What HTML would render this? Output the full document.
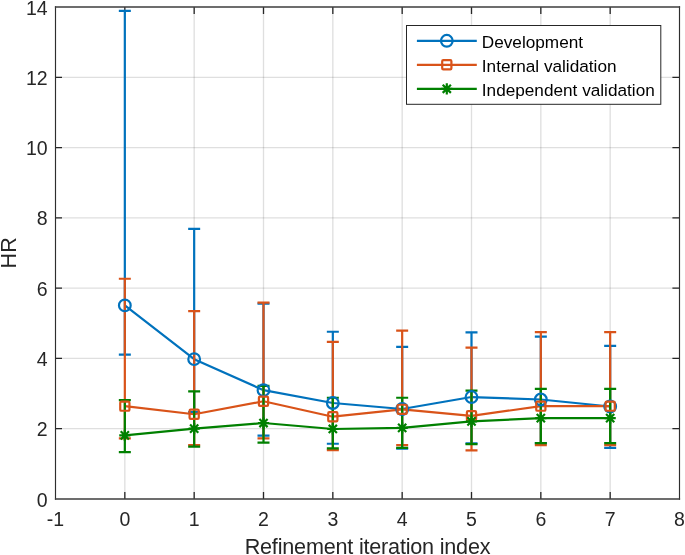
<!DOCTYPE html>
<html><head><meta charset="utf-8"><style>
html,body{margin:0;padding:0;background:#fff;width:685px;height:555px;overflow:hidden;}
svg{display:block;will-change:transform;}
text{font-family:"Liberation Sans",sans-serif;}
</style></head><body>
<svg width="685" height="555" viewBox="0 0 685 555">
<rect x="0" y="0" width="685" height="555" fill="#fff"/>
<path d="M124.83 7.65V498.35 M194.17 7.65V498.35 M263.50 7.65V498.35 M332.83 7.65V498.35 M402.17 7.65V498.35 M471.50 7.65V498.35 M540.83 7.65V498.35 M610.17 7.65V498.35" stroke="#262626" stroke-opacity="0.15" stroke-width="1.3" fill="none"/>
<path d="M56 428.71H679 M56 358.43H679 M56 288.14H679 M56 217.86H679 M56 147.57H679 M56 77.29H679" stroke="#262626" stroke-opacity="0.15" stroke-width="1.3" fill="none"/>
<path d="M124.83 499V491.9M124.83 7V14.0 M194.17 499V491.9M194.17 7V14.0 M263.50 499V491.9M263.50 7V14.0 M332.83 499V491.9M332.83 7V14.0 M402.17 499V491.9M402.17 7V14.0 M471.50 499V491.9M471.50 7V14.0 M540.83 499V491.9M540.83 7V14.0 M610.17 499V491.9M610.17 7V14.0 M55.5 428.71H62.0M679.5 428.71H672.4 M55.5 358.43H62.0M679.5 358.43H672.4 M55.5 288.14H62.0M679.5 288.14H672.4 M55.5 217.86H62.0M679.5 217.86H672.4 M55.5 147.57H62.0M679.5 147.57H672.4 M55.5 77.29H62.0M679.5 77.29H672.4" stroke="#262626" stroke-width="1.3" fill="none"/>
<path d="M124.83 305.41 L194.17 359.13 L263.50 390.19 L332.83 403.01 L402.17 408.98 L471.50 397.04 L540.83 399.50 L610.17 406.52" stroke="#0072BD" stroke-width="2.2" fill="none" stroke-linejoin="round"/><path d="M124.83 354.56V10.86M118.83 10.86H130.83M118.83 354.56H130.83M194.17 412.14V228.88M188.17 228.88H200.17M188.17 412.14H200.17M263.50 435.66V303.66M257.50 303.66H269.50M257.50 435.66H269.50M332.83 443.73V331.74M326.83 331.74H338.83M326.83 443.73H338.83M402.17 448.65V346.84M396.17 346.84H408.17M396.17 448.65H408.17M471.50 443.38V332.44M465.50 332.44H477.50M465.50 443.38H477.50M540.83 443.03V336.66M534.83 336.66H546.83M534.83 443.03H546.83M610.17 447.95V345.78M604.17 345.78H616.17M604.17 447.95H616.17" stroke="#0072BD" stroke-width="2.2" fill="none"/>
<path d="M124.83 406.17 L194.17 414.24 L263.50 401.25 L332.83 416.70 L402.17 409.33 L471.50 415.82 L540.83 406.17 L610.17 406.17" stroke="#D95319" stroke-width="2.2" fill="none" stroke-linejoin="round"/><path d="M124.83 438.47V278.73M118.83 278.73H130.83M118.83 438.47H130.83M194.17 445.14V311.03M188.17 311.03H200.17M188.17 445.14H200.17M263.50 438.47V302.60M257.50 302.60H269.50M257.50 438.47H269.50M332.83 450.05V341.92M326.83 341.92H338.83M326.83 450.05H338.83M402.17 445.14V330.69M396.17 330.69H408.17M396.17 445.14H408.17M471.50 450.40V347.54M465.50 347.54H477.50M465.50 450.40H477.50M540.83 445.14V332.09M534.83 332.09H546.83M534.83 445.14H546.83M610.17 445.14V332.09M604.17 332.09H616.17M604.17 445.14H616.17" stroke="#D95319" stroke-width="2.2" fill="none"/>
<path d="M124.83 435.31 L194.17 428.64 L263.50 423.02 L332.83 428.99 L402.17 427.93 L471.50 421.41 L540.83 418.10 L610.17 418.10" stroke="#008000" stroke-width="2.2" fill="none" stroke-linejoin="round"/><path d="M124.83 452.16V400.20M118.83 400.20H130.83M118.83 452.16H130.83M194.17 446.72V391.42M188.17 391.42H200.17M188.17 446.72H200.17M263.50 442.68V385.81M257.50 385.81H269.50M257.50 442.68H269.50M332.83 448.30V397.74M326.83 397.74H338.83M326.83 448.30H338.83M402.17 447.95V397.74M396.17 397.74H408.17M396.17 447.95H408.17M471.50 444.08V390.72M465.50 390.72H477.50M465.50 444.08H477.50M540.83 443.03V388.97M534.83 388.97H546.83M534.83 443.03H546.83M610.17 443.03V388.97M604.17 388.97H616.17M604.17 443.03H616.17" stroke="#008000" stroke-width="2.2" fill="none"/>
<circle cx="124.83" cy="305.41" r="5.85" stroke="#0072BD" stroke-width="2.2" fill="none"/>
<circle cx="194.17" cy="359.13" r="5.85" stroke="#0072BD" stroke-width="2.2" fill="none"/>
<circle cx="263.50" cy="390.19" r="5.85" stroke="#0072BD" stroke-width="2.2" fill="none"/>
<circle cx="332.83" cy="403.01" r="5.85" stroke="#0072BD" stroke-width="2.2" fill="none"/>
<circle cx="402.17" cy="408.98" r="5.85" stroke="#0072BD" stroke-width="2.2" fill="none"/>
<circle cx="471.50" cy="397.04" r="5.85" stroke="#0072BD" stroke-width="2.2" fill="none"/>
<circle cx="540.83" cy="399.50" r="5.85" stroke="#0072BD" stroke-width="2.2" fill="none"/>
<circle cx="610.17" cy="406.52" r="5.85" stroke="#0072BD" stroke-width="2.2" fill="none"/>
<rect x="120.23" y="401.57" width="9.20" height="9.20" rx="1.1" stroke="#D95319" stroke-width="2.2" fill="none" stroke-linejoin="round"/>
<rect x="189.57" y="409.64" width="9.20" height="9.20" rx="1.1" stroke="#D95319" stroke-width="2.2" fill="none" stroke-linejoin="round"/>
<rect x="258.90" y="396.65" width="9.20" height="9.20" rx="1.1" stroke="#D95319" stroke-width="2.2" fill="none" stroke-linejoin="round"/>
<rect x="328.23" y="412.10" width="9.20" height="9.20" rx="1.1" stroke="#D95319" stroke-width="2.2" fill="none" stroke-linejoin="round"/>
<rect x="397.57" y="404.73" width="9.20" height="9.20" rx="1.1" stroke="#D95319" stroke-width="2.2" fill="none" stroke-linejoin="round"/>
<rect x="466.90" y="411.22" width="9.20" height="9.20" rx="1.1" stroke="#D95319" stroke-width="2.2" fill="none" stroke-linejoin="round"/>
<rect x="536.23" y="401.57" width="9.20" height="9.20" rx="1.1" stroke="#D95319" stroke-width="2.2" fill="none" stroke-linejoin="round"/>
<rect x="605.57" y="401.57" width="9.20" height="9.20" rx="1.1" stroke="#D95319" stroke-width="2.2" fill="none" stroke-linejoin="round"/>
<path d="M119.23 435.31H130.43M124.83 429.71V440.91M120.73 431.21L128.93 439.41M120.73 439.41L128.93 431.21" stroke="#008000" stroke-width="2.2" fill="none"/>
<path d="M188.57 428.64H199.77M194.17 423.04V434.24M190.07 424.54L198.27 432.74M190.07 432.74L198.27 424.54" stroke="#008000" stroke-width="2.2" fill="none"/>
<path d="M257.90 423.02H269.10M263.50 417.42V428.62M259.40 418.92L267.60 427.12M259.40 427.12L267.60 418.92" stroke="#008000" stroke-width="2.2" fill="none"/>
<path d="M327.23 428.99H338.43M332.83 423.39V434.59M328.73 424.89L336.93 433.09M328.73 433.09L336.93 424.89" stroke="#008000" stroke-width="2.2" fill="none"/>
<path d="M396.57 427.93H407.77M402.17 422.33V433.53M398.07 423.83L406.27 432.03M398.07 432.03L406.27 423.83" stroke="#008000" stroke-width="2.2" fill="none"/>
<path d="M465.90 421.41H477.10M471.50 415.81V427.01M467.40 417.31L475.60 425.51M467.40 425.51L475.60 417.31" stroke="#008000" stroke-width="2.2" fill="none"/>
<path d="M535.23 418.10H546.43M540.83 412.50V423.70M536.73 414.00L544.93 422.20M536.73 422.20L544.93 414.00" stroke="#008000" stroke-width="2.2" fill="none"/>
<path d="M604.57 418.10H615.77M610.17 412.50V423.70M606.07 414.00L614.27 422.20M606.07 422.20L614.27 414.00" stroke="#008000" stroke-width="2.2" fill="none"/>
<path d="M55.5 6.35V499.65M679.5 6.35V499.65" stroke="#2e2e2e" stroke-width="1.15" fill="none"/>
<path d="M54.9 7H680.1M54.9 499H680.1" stroke="#3e3e3e" stroke-width="1.3" fill="none"/>
<g font-family="Liberation Sans, sans-serif" font-size="19.5" fill="#262626"><text x="47.6" y="506.60" text-anchor="end">0</text><text x="47.6" y="436.31" text-anchor="end">2</text><text x="47.6" y="366.03" text-anchor="end">4</text><text x="47.6" y="295.74" text-anchor="end">6</text><text x="47.6" y="225.46" text-anchor="end">8</text><text x="47.6" y="155.17" text-anchor="end">10</text><text x="47.6" y="84.89" text-anchor="end">12</text><text x="47.6" y="14.60" text-anchor="end">14</text><text x="55.50" y="525.8" text-anchor="middle">-1</text><text x="124.83" y="525.8" text-anchor="middle">0</text><text x="194.17" y="525.8" text-anchor="middle">1</text><text x="263.50" y="525.8" text-anchor="middle">2</text><text x="332.83" y="525.8" text-anchor="middle">3</text><text x="402.17" y="525.8" text-anchor="middle">4</text><text x="471.50" y="525.8" text-anchor="middle">5</text><text x="540.83" y="525.8" text-anchor="middle">6</text><text x="610.17" y="525.8" text-anchor="middle">7</text><text x="679.50" y="525.8" text-anchor="middle">8</text></g>
 <text x="367.5" y="553.9" text-anchor="middle" font-family="Liberation Sans, sans-serif" font-size="21.6" letter-spacing="-0.2" fill="#262626">Refinement iteration index</text>
<text transform="translate(15.9 252.8) rotate(-90)" text-anchor="middle" font-family="Liberation Sans, sans-serif" font-size="21.6" fill="#262626">HR</text>
<rect x="406.5" y="25.5" width="254.30" height="78.80" fill="#fff" stroke="#262626" stroke-width="1"/>
<path d="M416.9 40.80H476.8" stroke="#0072BD" stroke-width="2.2"/>
<circle cx="446.80" cy="40.80" r="5.85" stroke="#0072BD" stroke-width="2.2" fill="none"/>
 <text x="481.8" y="47.70" font-family="Liberation Sans, sans-serif" font-size="17.2" fill="#000">Development</text>
<path d="M416.9 64.80H476.8" stroke="#D95319" stroke-width="2.2"/>
<rect x="442.20" y="60.20" width="9.20" height="9.20" rx="1.1" stroke="#D95319" stroke-width="2.2" fill="none" stroke-linejoin="round"/>
 <text x="481.8" y="71.70" font-family="Liberation Sans, sans-serif" font-size="17.2" fill="#000">Internal validation</text>
<path d="M416.9 88.80H476.8" stroke="#008000" stroke-width="2.2"/>
<path d="M441.20 88.80H452.40M446.80 83.20V94.40M442.70 84.70L450.90 92.90M442.70 92.90L450.90 84.70" stroke="#008000" stroke-width="2.2" fill="none"/>
 <text x="481.8" y="95.70" font-family="Liberation Sans, sans-serif" font-size="17.2" fill="#000">Independent validation</text>
</svg>
</body></html>
